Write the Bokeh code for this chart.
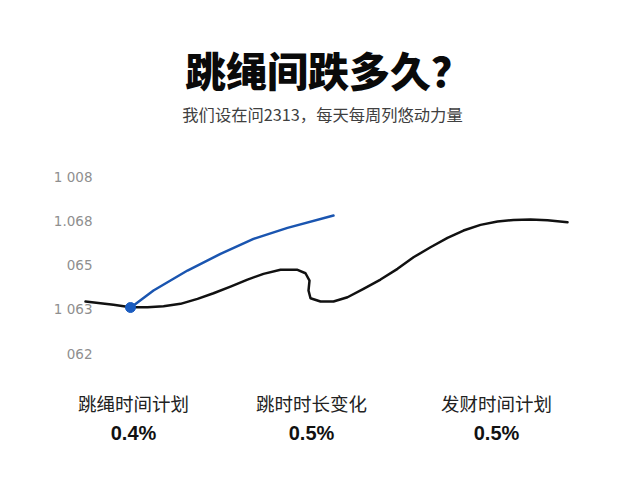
from bokeh.plotting import figure
from bokeh.models import FixedTicker
from bokeh.layouts import column
from bokeh.core.properties import value
from bokeh.embed import file_html
from bokeh.resources import INLINE

# ---- data ----
title_text = "跳绳间跌多久？"
subtitle_text = "我们设在问2313，每天每周列悠动力量"
y_ticks = [0, 1, 2, 3, 4]
y_tick_labels = ["062", "1 063", "065", "1.068", "1 008"]

black_x = [1, 16, 29, 46, 63, 79, 96, 113, 129, 146, 163, 179, 196, 213, 221, 225, 224, 226,
           236, 249, 263, 279, 296, 313, 329, 346, 363, 379, 396, 413, 429, 446, 463, 483]
black_y = [1.175, 1.137, 1.101, 1.046, 1.046, 1.069, 1.123, 1.236, 1.363, 1.514, 1.672, 1.801,
           1.892, 1.892, 1.815, 1.650, 1.424, 1.250, 1.175, 1.175, 1.272, 1.462, 1.672, 1.914,
           2.176, 2.402, 2.615, 2.780, 2.908, 2.983, 3.021, 3.028, 3.012, 2.967]
blue_x = [46, 69, 103, 136, 169, 203, 249]
blue_y = [1.033, 1.424, 1.876, 2.253, 2.592, 2.841, 3.119]
dot_x = [46]
dot_y = [1.04]

stat_labels = ["跳绳时间计划", "跳时时长变化", "发财时间计划"]
stat_values = ["0.4%", "0.5%", "0.5%"]

W = 640
TOP_H, MID_H, BOT_H = 150, 230, 100
FL, FR = 60, 20   # frame borders shared by all three figures so their frames line up


def blank(h):
    f = figure(width=W, height=h, output_backend="svg", toolbar_location=None,
               x_range=(FL, W - FR), y_range=(0, h), x_axis_location=None, y_axis_location=None,
               min_border_left=FL, min_border_right=FR, min_border_top=0, min_border_bottom=0)
    f.outline_line_color = None
    f.grid.visible = False
    f.background_fill_color = "white"
    f.border_fill_color = "white"
    return f


# ---- header ----
top = blank(TOP_H)
top.text(x=[328], y=[TOP_H - 68], text=[title_text], text_align="center", text_baseline="middle",
         text_font=value("Noto Sans CJK SC Black, Noto Sans CJK SC"), text_font_style="bold",
         text_font_size="41px", text_color="#0a0a0a")
top.text(x=[322], y=[TOP_H - 113], text=[subtitle_text], text_align="center", text_baseline="middle",
         text_font=value("Noto Sans CJK SC"), text_font_size="16.3px", text_color="#404040")

# ---- chart ----
p = figure(width=W, height=MID_H, output_backend="svg", toolbar_location=None,
           x_range=(-24, 536), y_range=(-0.61, 4.59),
           min_border_left=FL, min_border_right=FR, min_border_top=0, min_border_bottom=0)
p.outline_line_color = None
p.grid.visible = False
p.xaxis.visible = False
p.background_fill_color = "white"
p.border_fill_color = "white"

ya = p.yaxis[0]
ya.ticker = FixedTicker(ticks=y_ticks)
ya.major_label_overrides = {t: l for t, l in zip(y_ticks, y_tick_labels)}
ya.axis_line_color = None
ya.major_tick_line_color = None
ya.minor_tick_line_color = None
ya.major_label_standoff = -38
ya.major_label_text_color = "#8f8f8f"
ya.major_label_text_font = "DejaVu Sans"
ya.major_label_text_font_size = "13.5px"

p.line(black_x, black_y, line_color="#111111", line_width=2.5, line_join="round", line_cap="round")
p.line(blue_x, blue_y, line_color="#1a55b0", line_width=2.5, line_join="round", line_cap="round")
p.scatter(dot_x, dot_y, size=10, fill_color="#1a5cc0", line_color="#1a5cc0")

# ---- footer stats ----
bot = blank(BOT_H)
col_x = [133, 311, 496]
bot.text(x=col_x, y=[BOT_H - 22] * 3, text=stat_labels, text_align="center", text_baseline="middle",
         text_font=value("Noto Sans CJK SC"), text_font_size="18.5px", text_color="#222222")
bot.text(x=col_x, y=[BOT_H - 52] * 3, text=stat_values, text_align="center", text_baseline="middle",
         text_font=value("Liberation Sans"), text_font_style="bold", text_font_size="20px",
         text_color="#111111")

layout = column(top, p, bot, spacing=0)
open("out.html", "w").write(file_html(layout, INLINE))
